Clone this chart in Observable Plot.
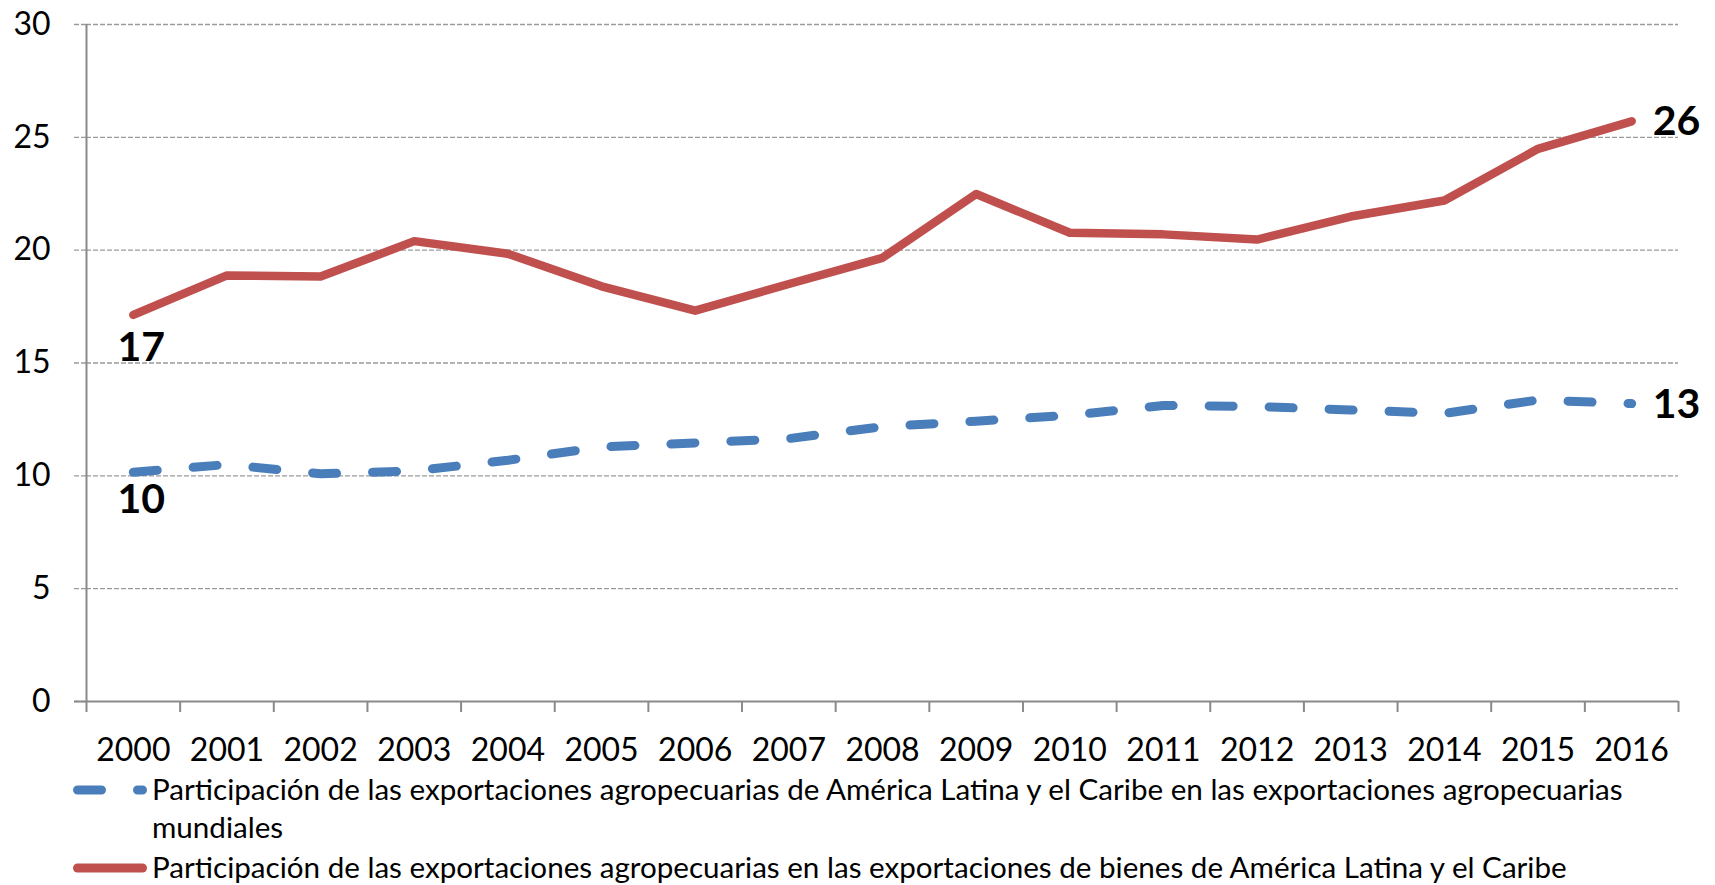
<!DOCTYPE html>
<html>
<head>
<meta charset="utf-8">
<script src="https://cdn.jsdelivr.net/npm/d3@7"></script>
<script src="https://cdn.jsdelivr.net/npm/@observablehq/plot@0.6"></script>
<style>
  html, body { margin: 0; padding: 0; background: #fff; }
  body { width: 1715px; height: 885px; overflow: hidden; font-family: Lato, "Open Sans", sans-serif; }
  #chart svg { display: block; }
  .legend { font-family: Lato, sans-serif; font-size: 29.6px; color: #000; }
  .row { display: flex; align-items: flex-start; line-height: 38px; white-space: nowrap; }
  .row svg { flex: none; display: block; }
  .row .txt { margin-left: 5px; }
</style>
</head>
<body>
<div id="chart"></div>
<div class="legend" id="legend"></div>
<script>
// ---- data ----
const years = [2000, 2001, 2002, 2003, 2004, 2005, 2006, 2007, 2008, 2009, 2010, 2011, 2012, 2013, 2014, 2015, 2016];
// Participación de las exportaciones agropecuarias de ALC en las exportaciones agropecuarias mundiales (%)
const shareWorld = [10.16, 10.5, 10.09, 10.22, 10.69, 11.28, 11.46, 11.65, 12.18, 12.42, 12.68, 13.12, 13.07, 12.92, 12.77, 13.36, 13.2];
// Participación de las exportaciones agropecuarias en las exportaciones de bienes de ALC (%)
const shareGoods = [17.13, 18.88, 18.83, 20.4, 19.84, 18.4, 17.32, 18.5, 19.66, 22.49, 20.77, 20.7, 20.47, 21.49, 22.2, 24.49, 25.71];
const yTicks = [0, 5, 10, 15, 20, 25, 30];
const seriesNames = [
  "Participación de las exportaciones agropecuarias de América Latina y el Caribe en las exportaciones agropecuarias",
  "mundiales",
  "Participación de las exportaciones agropecuarias en las exportaciones de bienes de América Latina y el Caribe"
];
const colorWorld = "#4A7EBB";
const colorGoods = "#C0504D";

// category boundaries for x-axis tick marks (between years)
const bounds = [years[0] - 0.5, ...years.map(y => y + 0.5)];

const axisColor = "#8a8a8a";
const gridColor = "#9a9a9a";

const first = i => [{x: years[0], y: i}];
const last = i => [{x: years[years.length - 1], y: i}];

const plot = Plot.plot({
  width: 1715,
  height: 770,
  marginTop: 24,
  marginBottom: 69,
  marginLeft: 86,
  marginRight: 37,
  style: {fontFamily: "Lato, sans-serif", fontSize: "32px", color: "#000", background: "#fff"},
  x: {type: "linear", domain: [years[0] - 0.5, years[years.length - 1] + 0.5]},
  y: {domain: [0, 30]},
  marks: [
    // horizontal dashed gridlines (extended left as tick marks)
    Plot.gridY(yTicks.filter(d => d > 0), {stroke: gridColor, strokeOpacity: 1, strokeWidth: 1.4, strokeDasharray: "5,2"}),
    Plot.axisY(yTicks, {tickSize: 12, tickPadding: 24, stroke: gridColor, strokeWidth: 1.4, strokeDasharray: "5,2", label: null, fontSize: 32, fill: "#000"}),
    // y-axis line
    Plot.ruleX([bounds[0]], {stroke: axisColor, strokeWidth: 2}),
    // x-axis line
    Plot.ruleY([0], {stroke: axisColor, strokeWidth: 2, insetLeft: -12}),
    // x tick marks between categories
    Plot.axisX(bounds, {tickSize: 11, stroke: axisColor, strokeWidth: 2, tickFormat: () => "", label: null}),
    // x labels at category centres
    Plot.axisX(years, {tickSize: 0, tickPadding: 37, tickFormat: d => String(d), label: null, fontSize: 32, fill: "#000"}),
    // series
    Plot.line(years, {x: years, y: shareWorld, stroke: colorWorld, strokeWidth: 9, strokeDasharray: "24,36", strokeLinecap: "round", strokeLinejoin: "round"}),
    Plot.line(years, {x: years, y: shareGoods, stroke: colorGoods, strokeWidth: 8.5, strokeLinecap: "round", strokeLinejoin: "round"}),
    // end labels
    Plot.text(first(shareGoods[0]), {x: "x", y: "y", text: d => String(Math.round(d.y)), dx: 8, dy: 33, fontSize: 41, fontWeight: "bold", fill: "#000"}),
    Plot.text(first(shareWorld[0]), {x: "x", y: "y", text: d => String(Math.round(d.y)), dx: 8, dy: 28, fontSize: 41, fontWeight: "bold", fill: "#000"}),
    Plot.text(last(shareGoods[shareGoods.length - 1]), {x: "x", y: "y", text: d => String(Math.round(d.y)), dx: 21, dy: 1, textAnchor: "start", fontSize: 41, fontWeight: "bold", fill: "#000"}),
    Plot.text(last(shareWorld[shareWorld.length - 1]), {x: "x", y: "y", text: d => String(Math.round(d.y)), dx: 21, dy: 1, textAnchor: "start", fontSize: 41, fontWeight: "bold", fill: "#000"})
  ]
});
document.getElementById("chart").appendChild(plot);

// ---- legend (HTML below the SVG) ----
const legend = document.getElementById("legend");
function swatch(color, dash) {
  const ns = "http://www.w3.org/2000/svg";
  const s = document.createElementNS(ns, "svg");
  s.setAttribute("width", 74);
  s.setAttribute("height", 38);
  const l = document.createElementNS(ns, "line");
  l.setAttribute("x1", 4.5); l.setAttribute("x2", 69.5);
  l.setAttribute("y1", 20); l.setAttribute("y2", 20);
  l.setAttribute("stroke", color);
  l.setAttribute("stroke-width", 9);
  l.setAttribute("stroke-linecap", "round");
  if (dash) l.setAttribute("stroke-dasharray", dash);
  s.appendChild(l);
  return s;
}
function row(sw, lines, extraTop) {
  const r = document.createElement("div");
  r.className = "row";
  r.style.paddingLeft = "73px";
  if (extraTop) r.style.marginTop = extraTop + "px";
  r.appendChild(sw);
  const t = document.createElement("div");
  t.className = "txt";
  lines.forEach((s, i) => {
    if (i) t.appendChild(document.createElement("br"));
    t.appendChild(document.createTextNode(s));
  });
  r.appendChild(t);
  legend.appendChild(r);
}
row(swatch(colorWorld, "24,36"), [seriesNames[0], seriesNames[1]], 0);
row(swatch(colorGoods, null), [seriesNames[2]], 2);
</script>
</body>
</html>
